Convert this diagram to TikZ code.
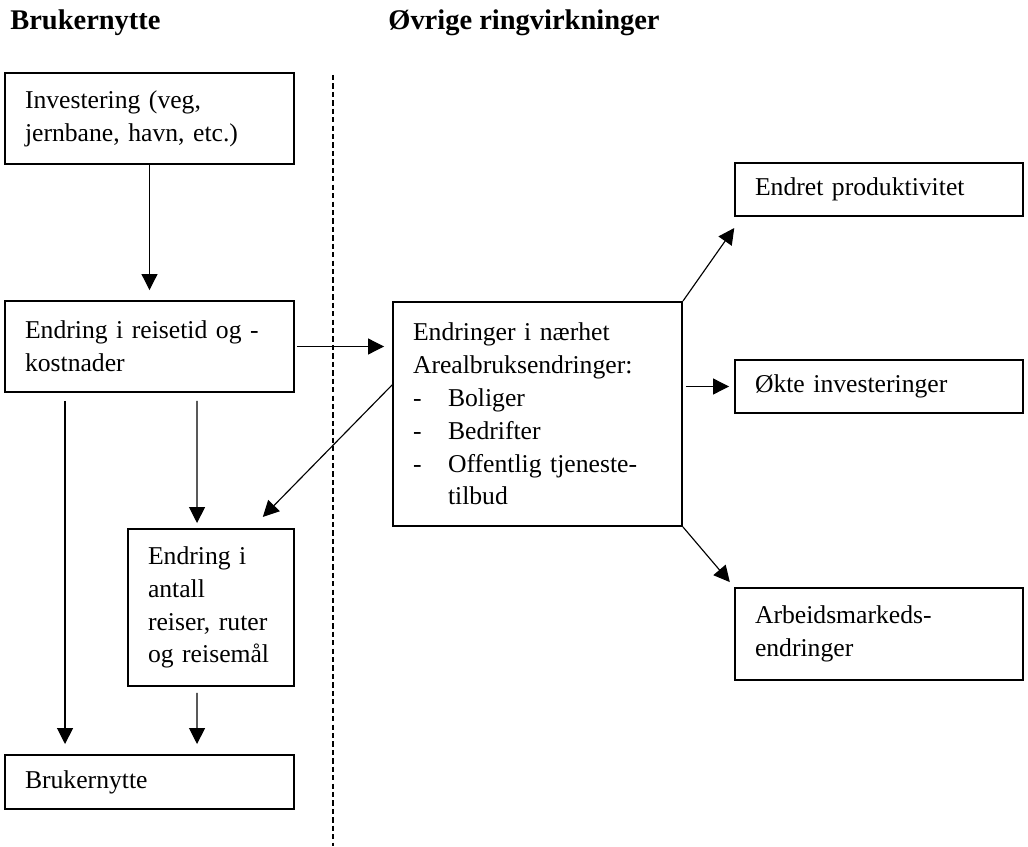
\documentclass[tikz,border=0pt]{standalone}
\usepackage{fontspec}
\setmainfont{Liberation Serif}
\usetikzlibrary{arrows.meta}

\newcommand{\strek}[1]{\makebox[0.7cm][l]{-}#1}

\tikzset{
  boks/.style={draw, rectangle, line width=1.1pt, align=left, inner xsep=0.4cm,
    inner ysep=0pt, font=\fontsize{14.6}{18.7}\selectfont},
  pil/.style={-{Triangle[width=0.32cm,length=0.32cm]}, line width=0.65pt},
  tittel/.style={anchor=west, inner sep=0pt, font=\fontsize{16.2}{19}\selectfont\bfseries}
}

\begin{document}
\begin{tikzpicture}
  \useasboundingbox (0,0) rectangle (20.56,-16.92);

  % overskrifter og skillelinje
  \node[tittel] (t1) at (0.2,-0.46)  {Brukernytte};
  \node[tittel] (t2) at (7.76,-0.46) {Øvrige ringvirkninger};
  \coordinate (d1) at (6.66,-1.5);
  \coordinate (d2) at (6.66,-16.92);
  \draw[dash pattern=on 3pt off 1.8pt, line width=0.9pt] (d1) -- (d2);

  % brukernytte
  \node[boks, text width=4.98cm, minimum height=1.82cm] (inv)    at (2.99,-2.37)
    {Investering (veg,\\ jernbane, havn, etc.)};
  \node[boks, text width=4.98cm, minimum height=1.82cm] (reise)  at (2.99,-6.93)
    {Endring i reisetid og -\\ kostnader};
  \node[boks, text width=2.52cm, minimum height=3.14cm] (antall) at (4.22,-12.15)
    {Endring i\\ antall\\ reiser, ruter\\ og reisemål};
  \node[boks, text width=4.98cm, minimum height=1.08cm] (bruk)   at (2.99,-15.64)
    {Brukernytte};

  % øvrige ringvirkninger
  \node[boks, text width=4.98cm, minimum height=4.48cm] (naer)   at (10.75,-8.28)
    {Endringer i nærhet\\ Arealbruksendringer:\\ \strek{Boliger}\\ \strek{Bedrifter}\\
     \strek{Offentlig tjeneste-}\\ \hspace*{0.7cm}tilbud};
  \node[boks, text width=4.96cm, minimum height=1.06cm] (prod)   at (17.58,-3.79)
    {Endret produktivitet};
  \node[boks, text width=4.96cm, minimum height=1.06cm] (okte)   at (17.58,-7.73)
    {Økte investeringer};
  \node[boks, text width=4.96cm, minimum height=1.84cm] (arb)    at (17.58,-12.68)
    {Arbeidsmarkeds-\\ endringer};

  \draw[pil, shorten >=0.2cm] (inv) -- (reise);
  \draw[pil, shorten <=0.04cm, shorten >=0.16cm] (reise.east) -- (reise.east -| naer.west);
  \draw[pil, shorten <=0.16cm, shorten >=0.2cm] ([xshift=1.22cm]reise.south west) -- ([xshift=1.22cm]bruk.north west);
  \draw[pil, shorten <=0.16cm, shorten >=0.1cm] ([xshift=3.86cm]reise.south west) -- ([xshift=1.4cm]antall.north west);
  \draw[pil, shorten <=0.12cm, shorten >=0.2cm] ([xshift=1.4cm]antall.south west) -- ([xshift=3.86cm]bruk.north west);
  \draw[pil, shorten >=0.31cm] ([yshift=0.58cm]naer.west) -- ([xshift=-0.86cm]antall.north east);
  \draw[pil, shorten >=0.27cm] (naer.north east) -- ([xshift=0.16cm]prod.south west);
  \draw[pil, shorten <=0.06cm, shorten >=0.1cm] (naer.east |- okte.west) -- (okte.west);
  \draw[pil, shorten >=0.13cm] (naer.south east) -- (arb.north west);
\end{tikzpicture}
\end{document}
